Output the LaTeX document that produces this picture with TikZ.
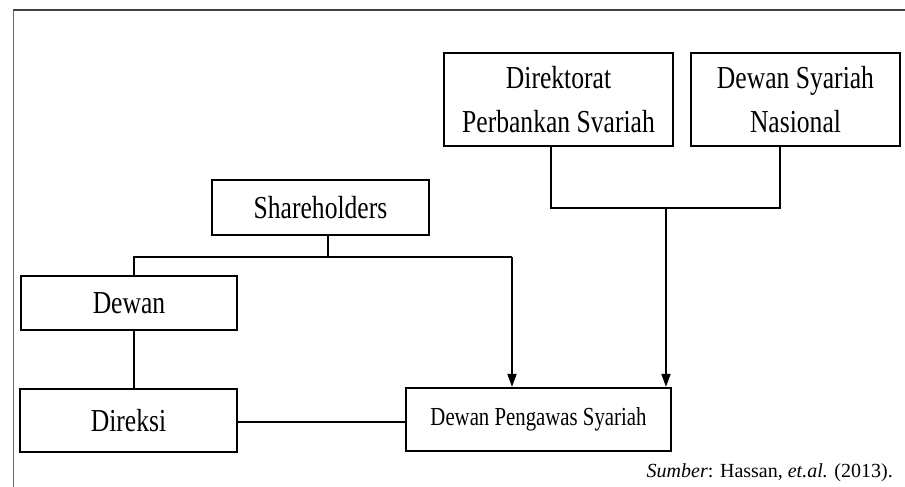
\documentclass[tikz,border=0pt]{standalone}
\usepackage{fontspec}
\setmainfont{Liberation Serif}
\newfontfamily\condfont[FakeStretch=0.8]{Liberation Serif}
\usetikzlibrary{arrows.meta,calc}
\begin{document}
\begin{tikzpicture}[x=1pt,y=-1pt,
  boxnode/.style={draw,line width=2.2pt,rectangle,inner sep=0pt,align=center,
    font=\condfont\fontsize{32}{44}\selectfont},
  conn/.style={line width=1.8pt},
  arr/.style={conn,-{Triangle[length=13pt,width=9pt]}}]
\useasboundingbox (0,0) rectangle (905,487);
% frame
\draw[line width=1.6pt,black!75] (905,10) -- (13,10);
\draw[line width=0.8pt,black!60] (13,10) -- (13,487);
% nodes
\node[boxnode,minimum width=229pt,minimum height=93pt] (dps1) at (558.5,99.5) {Direktorat\\Perbankan Svariah};
\node[boxnode,minimum width=209pt,minimum height=93pt] (dsn) at (795.5,99.5) {Dewan Syariah\\Nasional};
\node[boxnode,minimum width=217pt,minimum height=55pt] (sh) at (320.5,207.5) {Shareholders};
\node[boxnode,minimum width=216pt,minimum height=54pt] (dewan) at (129,303) {Dewan};
\node[boxnode,minimum width=217pt,minimum height=63pt] (dir) at (128.5,420.5) {Direksi};
\node[boxnode,minimum width=265pt,minimum height=63pt,font=\condfont\fontsize{26}{30}\selectfont] (dpsy) at (538.5,419.5) {Dewan Pengawas Syariah};
\node[anchor=base east,inner sep=0pt,font=\fontsize{20}{24}\selectfont] (src) at (893,477) {\textit{Sumber}: Hassan, \textit{et.al.} (2013).};
% junctions
\coordinate (j1) at (328,257);
\coordinate (jl) at (134,257);
\coordinate (jr) at (512,257);
\coordinate (k1) at (551,208);
\coordinate (k2) at (780,208);
\coordinate (km) at (666,208);
% connectors
\draw[conn] (j1 |- sh.south) -- (j1);
\draw[conn] (jl |- dewan.north) -- (jl) -- (jr);
\draw[arr] (jr) -- (jr |- dpsy.north);
\draw[conn] (jl |- dewan.south) -- (jl |- dir.north);
\draw[conn] (dir.east |- 0,422) -- (dpsy.west |- 0,422);
\draw[conn] (k1 |- dps1.south) -- (k1) -- (k2) -- (k2 |- dsn.south);
\draw[arr] (km) -- (km |- dpsy.north);
\end{tikzpicture}
\end{document}
